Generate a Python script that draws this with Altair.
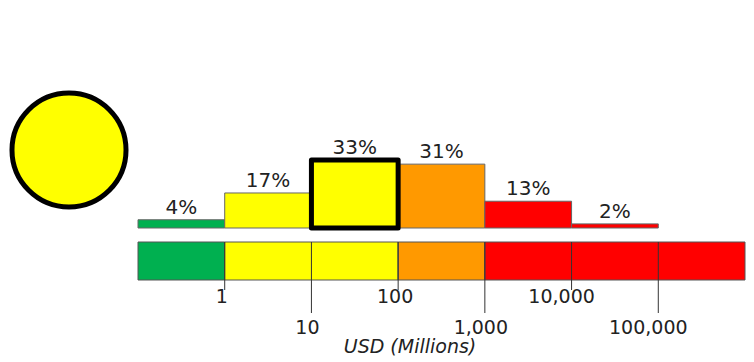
import altair as alt
import pandas as pd

# Histogram bins (USD millions, log scale)
bin_lo = [0.1, 1, 10, 100, 1000, 10000]
bin_hi = [1, 10, 100, 1000, 10000, 100000]
pct = [4, 17, 33, 31, 13, 2]
pct_labels = ["4%", "17%", "33%", "31%", "13%", "2%"]
bin_colors = ["#00b050", "#ffff00", "#ffff00", "#ff9900", "#ff0000", "#ff0000"]
highlight = [False, False, True, False, False, False]

# Colour band under the histogram
band_lo = [0.1, 1, 100, 1000]
band_hi = [1, 100, 1000, 1000000]
band_colors = ["#00b050", "#ffff00", "#ff9900", "#ff0000"]

# Axis ticks
tick_vals = [1, 10, 100, 1000, 10000, 100000]
tick_labels = ["1", "10", "100", "1,000", "10,000", "100,000"]
tick_row = [0, 1, 0, 1, 0, 1]

axis_title = "USD (Millions)"

bins = pd.DataFrame({
    "lo": bin_lo, "hi": bin_hi, "pct": pct, "label": pct_labels,
    "color": bin_colors, "hl": highlight,
    "mid": [(a * b) ** 0.5 for a, b in zip(bin_lo, bin_hi)],
})
band = pd.DataFrame({"lo": band_lo, "hi": band_hi, "color": band_colors})
ticks = pd.DataFrame({"v": tick_vals, "label": tick_labels, "row": tick_row})

xs = alt.Scale(type="log", domain=[0.1, 1000000], range=[130, 737], nice=False)
ys = alt.Scale(domain=[0, 100], range=[220, 14], nice=False)
FONT = "DejaVu Sans"

base_bins = alt.Chart(bins)

bars = base_bins.transform_filter("!datum.hl").mark_rect(stroke="#666666", strokeWidth=1).encode(
    x=alt.X("lo:Q", scale=xs, axis=None),
    x2="hi:Q",
    y=alt.Y("pct:Q", scale=ys, axis=None),
    y2=alt.value(220),
    color=alt.Color("color:N", scale=None),
)
hl_bar = base_bins.transform_filter("datum.hl").mark_rect(
    stroke="#000000", strokeWidth=5, strokeJoin="round"
).encode(
    x=alt.X("lo:Q", scale=xs, axis=None),
    x2="hi:Q",
    y=alt.Y("pct:Q", scale=ys, axis=None),
    y2=alt.value(220),
    color=alt.Color("color:N", scale=None),
)
pct_text = base_bins.mark_text(baseline="alphabetic", dy=-6, fontSize=20, font=FONT, color="#222222").encode(
    x=alt.X("mid:Q", scale=xs, axis=None),
    y=alt.Y("pct:Q", scale=ys, axis=None),
    text="label:N",
)

band_rect = alt.Chart(band).mark_rect(stroke="#555555", strokeWidth=1).encode(
    x=alt.X("lo:Q", scale=xs, axis=None),
    x2="hi:Q",
    y=alt.value(234),
    y2=alt.value(272),
    color=alt.Color("color:N", scale=None),
)

base_ticks = alt.Chart(ticks)
rules_up = base_ticks.transform_filter("datum.row == 0").mark_rule(color="#333333", strokeWidth=1).encode(
    x=alt.X("v:Q", scale=xs, axis=None), y=alt.value(234), y2=alt.value(282)
)
rules_low = base_ticks.transform_filter("datum.row == 1").mark_rule(color="#333333", strokeWidth=1).encode(
    x=alt.X("v:Q", scale=xs, axis=None), y=alt.value(234), y2=alt.value(305)
)


def tick_label_layer(cond, ypix, dx):
    return base_ticks.transform_filter(cond).mark_text(
        fontSize=19, font=FONT, color="#222222", baseline="middle", dx=dx
    ).encode(x=alt.X("v:Q", scale=xs, axis=None), y=alt.value(ypix), text="label:N")


labels_up = tick_label_layer("datum.row == 0 && datum.v < 10000", 289, -3)
labels_up_wide = tick_label_layer("datum.row == 0 && datum.v >= 10000", 289, -10)
labels_low = tick_label_layer("datum.row == 1 && datum.v < 10000", 320, -4)
labels_low_wide = tick_label_layer("datum.row == 1 && datum.v >= 10000", 320, -10)

title = alt.Chart(pd.DataFrame({"t": [axis_title]})).mark_text(
    fontSize=19, font=FONT, fontStyle="italic", color="#222222", baseline="middle"
).encode(x=alt.value(402), y=alt.value(339), text="t:N")

circle = alt.Chart(pd.DataFrame({"c": ["yellow"]})).mark_circle(
    opacity=1, fill="#ffff00", stroke="#000000", strokeWidth=5, size=13000
).encode(x=alt.value(61), y=alt.value(142))

chart = alt.layer(
    bars, band_rect, rules_up, rules_low, hl_bar, pct_text,
    labels_up, labels_up_wide, labels_low, labels_low_wide, title, circle
).properties(width=738, height=354, padding=0, autosize="none").configure_view(strokeWidth=0)

chart.save("out.html", embed_options={"renderer": "svg", "actions": False})
